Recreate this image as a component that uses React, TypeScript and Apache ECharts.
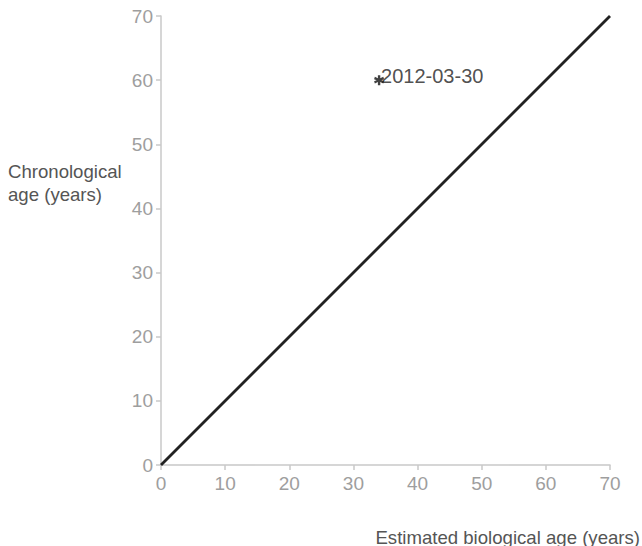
import React, { useEffect, useRef } from "react";
import * as echarts from "echarts";

const xTicks = [0, 10, 20, 30, 40, 50, 60, 70];
const lineX = [0, 70];
const lineY = [0, 70];
const pointX = [34];
const pointY = [60];
const pointLabels = ["2012-03-30"];
const yName = "Chronological\nage (years)";
const xName = "Estimated biological age (years)";

export default function App() {
  const ref = useRef<HTMLDivElement>(null);
  useEffect(() => {
    const chart = echarts.init(ref.current!, null, { renderer: "svg" });
    const font = "'Liberation Sans', Arial, Helvetica, sans-serif";
    const axisCommon = {
      type: "value" as const,
      min: xTicks[0],
      max: xTicks[xTicks.length - 1],
      interval: 10,
      splitLine: { show: false },
      axisLine: { show: true, lineStyle: { color: "#c8c8c8", width: 1.5 } },
      axisTick: { show: true, length: 5, lineStyle: { color: "#c8c8c8", width: 1.5 } },
      axisLabel: { color: "#9e9e9e", fontSize: 19, fontFamily: font },
    };
    chart.setOption({
      animation: false,
      grid: { left: 161, right: 32, top: 16, bottom: 81 },
      xAxis: { ...axisCommon, axisLabel: { ...axisCommon.axisLabel, margin: 9 } },
      yAxis: { ...axisCommon, axisLabel: { ...axisCommon.axisLabel, margin: 8 } },
      graphic: [
        {
          type: "text",
          left: 8,
          top: 160,
          style: { text: yName, fill: "#555555", fontSize: 18.6, fontFamily: font, lineHeight: 23 },
        },
        {
          type: "text",
          right: 2,
          top: 526,
          style: { text: xName, fill: "#555555", fontSize: 18.6, fontFamily: font, lineHeight: 22 },
        },
      ],
      series: [
        {
          type: "line",
          data: lineX.map((x, i) => [x, lineY[i]]),
          showSymbol: false,
          lineStyle: { color: "#222222", width: 2.8 },
          silent: true,
        },
        {
          type: "scatter",
          data: pointX.map((x, i) => ({ value: [x, pointY[i]], name: pointLabels[i] })),
          symbol:
            "path://M3.8,0L6.2,0L6.2,3.2L9.2,1.6L10,4L7.4,5L10,6L9.2,8.4L6.2,6.8L6.2,10L3.8,10L3.8,6.8L0.8,8.4L0,6L2.6,5L0,4L0.8,1.6L3.8,3.2Z",
          symbolSize: 10,
          itemStyle: { color: "#111111" },
          label: {
            show: true,
            position: "right",
            distance: 0,
            offset: [-3, -4],
            formatter: (p: any) => p.name,
            color: "#222222",
            fontSize: 20,
            fontFamily: font,
          },
        },
      ],
    });
    return () => chart.dispose();
  }, []);
  return (
    <div
      ref={ref}
      style={{ position: "absolute", left: 0, top: 0, width: 642, height: 546 }}
    />
  );
}
